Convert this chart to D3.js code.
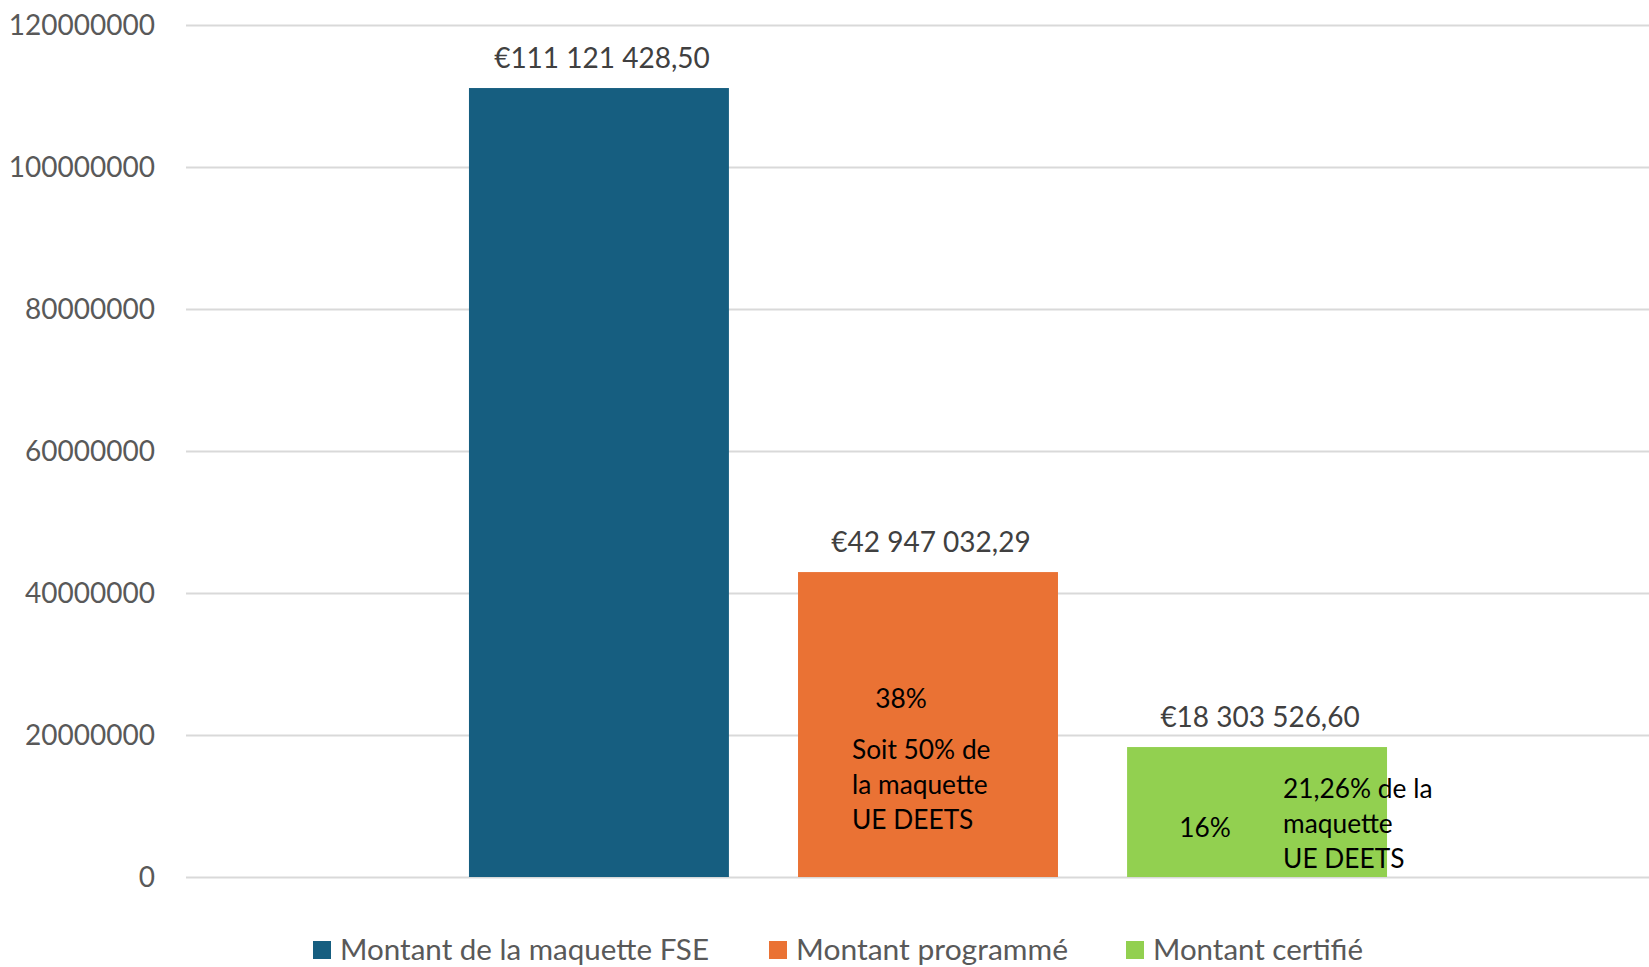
<!DOCTYPE html>
<html><head><meta charset="utf-8">
<script src="https://cdn.jsdelivr.net/npm/d3@7"></script>
<style>body{margin:0;background:#fff;}svg{display:block;}</style>
</head><body>
<svg id="c" width="1649" height="967"></svg>
<script>
const categories = ["FSE"];
const series = ["Montant de la maquette FSE", "Montant programmé", "Montant certifié"];
const values = [111121428.50, 42947032.29, 18303526.60];
const colors = ["#165E80", "#EA7234", "#92D050"];
const tickValues = [0, 20000000, 40000000, 60000000, 80000000, 100000000, 120000000];
const annoPct = ["", "38%", "16%"];
const annoText = [[], ["Soit 50% de", "la maquette", "UE DEETS"], ["21,26% de la", "maquette", "UE DEETS"]];

(function () {
const mLeft = 186, mRight = 1649, mTop = 25, mBottom = 877;
const svg = d3.select("#c");
const font = "Lato, 'Open Sans', sans-serif";

const y = d3.scaleLinear().domain([0, 120000000]).range([mBottom, mTop]);
const x0 = d3.scaleBand().domain(categories).range([186, 1670]).paddingInner(0.2356).paddingOuter(0.2356);
const x1 = d3.scaleBand().domain(series).range([0, x0.bandwidth()]).paddingInner(0.21).paddingOuter(0);

const axis = d3.axisLeft(y).tickValues(tickValues).tickFormat(d3.format("d"))
  .tickSizeInner(-(mRight - mLeft)).tickSizeOuter(0).tickPadding(31);
const g = svg.append("g").attr("transform", `translate(${mLeft},0)`).call(axis);
g.select(".domain").remove();
g.selectAll(".tick line").attr("stroke", "#d9d9d9").attr("stroke-width", 2);
g.selectAll(".tick text").attr("fill", "#595959").attr("font-size", 28).attr("font-family", font).attr("dy", "0.35em");

const loc = d3.formatLocale({decimal: ",", thousands: " ", grouping: [3], currency: ["€", ""]});
const fmt = loc.format("$,.2f");

const cat = categories[0];
const bx = s => x0(cat) + x1(s);
const bars = svg.append("g");
series.forEach((s, i) => {
  bars.append("rect").attr("x", bx(s)).attr("y", y(values[i]))
    .attr("width", x1.bandwidth()).attr("height", y(0) - y(values[i])).attr("fill", colors[i]);
  svg.append("text").attr("x", bx(s) + x1.bandwidth() / 2 + 3).attr("y", y(values[i]) - 20)
    .attr("text-anchor", "middle").attr("font-family", font).attr("font-size", 28).attr("fill", "#404040")
    .text(fmt(values[i]));
});

const ann = svg.append("g").attr("font-family", font).attr("font-size", 26.3).attr("fill", "#000");
{
  const X = bx(series[1]);
  ann.append("text").attr("x", X + 103).attr("y", 708).attr("text-anchor", "middle").text(annoPct[1]);
  annoText[1].forEach((t, k) => ann.append("text").attr("x", X + 54).attr("y", 759 + k * 35).text(t));
}
{
  const X = bx(series[2]);
  ann.append("text").attr("x", X + 78).attr("y", 837).attr("text-anchor", "middle").text(annoPct[2]);
  annoText[2].forEach((t, k) => ann.append("text").attr("x", X + 156).attr("y", 798 + k * 35).text(t));
}

const legX = [313, 769, 1126];
const legW = [369, 272, 210];
const leg = svg.append("g");
series.forEach((s, i) => {
  leg.append("rect").attr("x", legX[i]).attr("y", 941).attr("width", 18).attr("height", 18).attr("fill", colors[i]);
  leg.append("text").attr("x", legX[i] + 27).attr("y", 960).attr("font-family", font).attr("font-size", 28)
    .attr("fill", "#595959").attr("textLength", legW[i]).attr("lengthAdjust", "spacingAndGlyphs").text(s);
});
})();
</script>
</body></html>
